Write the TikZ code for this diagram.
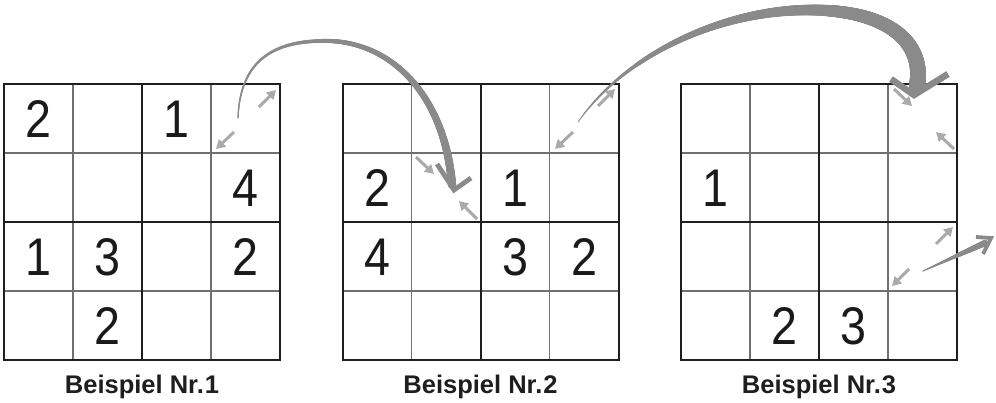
\documentclass[tikz,border=0pt]{standalone}
\usepackage{fontspec}
\setmainfont{Liberation Sans}
\newfontfamily\digitfont[FakeStretch=0.88]{Liberation Sans}
\usetikzlibrary{arrows.meta,decorations.markings}
\definecolor{thickc}{HTML}{1E1E1E}
\definecolor{thinc}{HTML}{707070}
\definecolor{smallc}{HTML}{AAAAAA}
\definecolor{bigc}{HTML}{8A8A8A}
\definecolor{digitc}{HTML}{1A1A1A}
\tikzset{
  thickl/.style={draw=thickc,line width=2pt},
  thinl/.style={draw=thinc,line width=1.2pt},
  digit/.style={inner sep=0pt,text=digitc,font=\digitfont\fontsize{53}{60}\selectfont},
  caption/.style={inner sep=0pt,anchor=base,text=thickc,font=\bfseries\fontsize{25.5}{30}\selectfont},
  smallarrow/.style={draw=smallc,line width=3pt,-{Triangle[length=9pt,width=10pt]}},
  chevron/.style={draw=bigc,line join=miter,line cap=butt},
  taper/.style n args={2}{postaction={decorate,decoration={markings,
     mark=between positions 0 and 1 step 0.5pt with {
       \pgfmathsetmacro\tr{#1+(#2-#1)*(\pgfkeysvalueof{/pgf/decoration/mark info/distance from start}/\pgfdecoratedpathlength)}
       \fill[bigc] (0pt,0pt) circle[radius=\tr pt];}}}}
}
\begin{document}
\begin{tikzpicture}[x=1pt,y=-1pt]
\path[use as bounding box,fill=white] (0,0) rectangle (996,402);
% grids
\foreach \g in {0,1,2}{
  \begin{scope}[shift={({4+338.5*\g},84)}]
    \draw[thinl] (0,69) -- (276,69) (0,207) -- (276,207) (69,0) -- (69,276) (207,0) -- (207,276);
    \draw[thickl] (0,0) rectangle (276,276) (138,0) -- (138,276) (0,138) -- (276,138);
  \end{scope}
}
% digits
\foreach \g/\r/\c/\d in {0/0/0/2,0/0/2/1,0/1/3/4,0/2/0/1,0/2/1/3,0/2/3/2,0/3/1/2,
                         1/1/0/2,1/1/2/1,1/2/0/4,1/2/2/3,1/2/3/2,
                         2/1/0/1,2/3/1/2,2/3/2/3}{
  \node[digit] (d\g\r\c) at ({4+338.5*\g+69*\c+34.5},{84+69*\r+35}) {\d};
}
% captions
\node[caption] (cap1) at (142,393) {Beispiel Nr.\kern1pt1};
\node[caption] (cap2) at (480.5,393) {Beispiel Nr.\kern1pt2};
\node[caption] (cap3) at (819,393) {Beispiel Nr.\kern1pt3};
% small arrows
\foreach \n/\ax/\ay/\bx/\by in {1/259/107/276/90, 2/234/132/216/149,
   3/598/106/615/89, 4/573/132/555/149, 5/416/157/434/174, 6/477/219/459/201,
   7/894/89/912/106, 8/954/149/936/132, 9/936/244/953/227, 10/909/269/892/286}{
  \coordinate (sa\n) at (\ax,\ay);
  \coordinate (ea\n) at (\bx,\by);
  \draw[smallarrow] (sa\n) -- (ea\n);
}
% big arrow 1
\coordinate (b1s) at (238,118);
\coordinate (b1m) at (320,41);
\coordinate (b1e) at (452,185);
\coordinate (b1l) at (437,164);
\coordinate (b1t) at (454,190);
\coordinate (b1r) at (471,178);
\path[taper={0.7}{4.2}] (b1s) .. controls (240,62) and (272,42) .. (b1m)
      .. controls (390,38) and (445,95) .. (b1e);
\draw[chevron,line width=4.8pt] (b1l) -- (b1t) -- (b1r);
% big arrow 2
\coordinate (b2s) at (578,122);
\coordinate (b2m) at (810,10);
\coordinate (b2e) at (917,86);
\coordinate (b2l) at (891,79);
\coordinate (b2t) at (914,95);
\coordinate (b2r) at (948,74);
\path[taper={0.5}{8.2}] (b2s) .. controls (625,55) and (720,10) .. (b2m)
      .. controls (885,10) and (925,40) .. (b2e);
\draw[chevron,line width=6.5pt] (b2l) -- (b2t) -- (b2r);
% big arrow 3
\coordinate (b3s) at (923,271);
\coordinate (b3e) at (985,243);
\coordinate (b3l) at (976,237);
\coordinate (b3t) at (991,238);
\coordinate (b3r) at (983,254);
\path[taper={0.6}{3.2}] (b3s) -- (b3e);
\draw[chevron,line width=3.8pt] (b3l) -- (b3t) -- (b3r);
\end{tikzpicture}
\end{document}
